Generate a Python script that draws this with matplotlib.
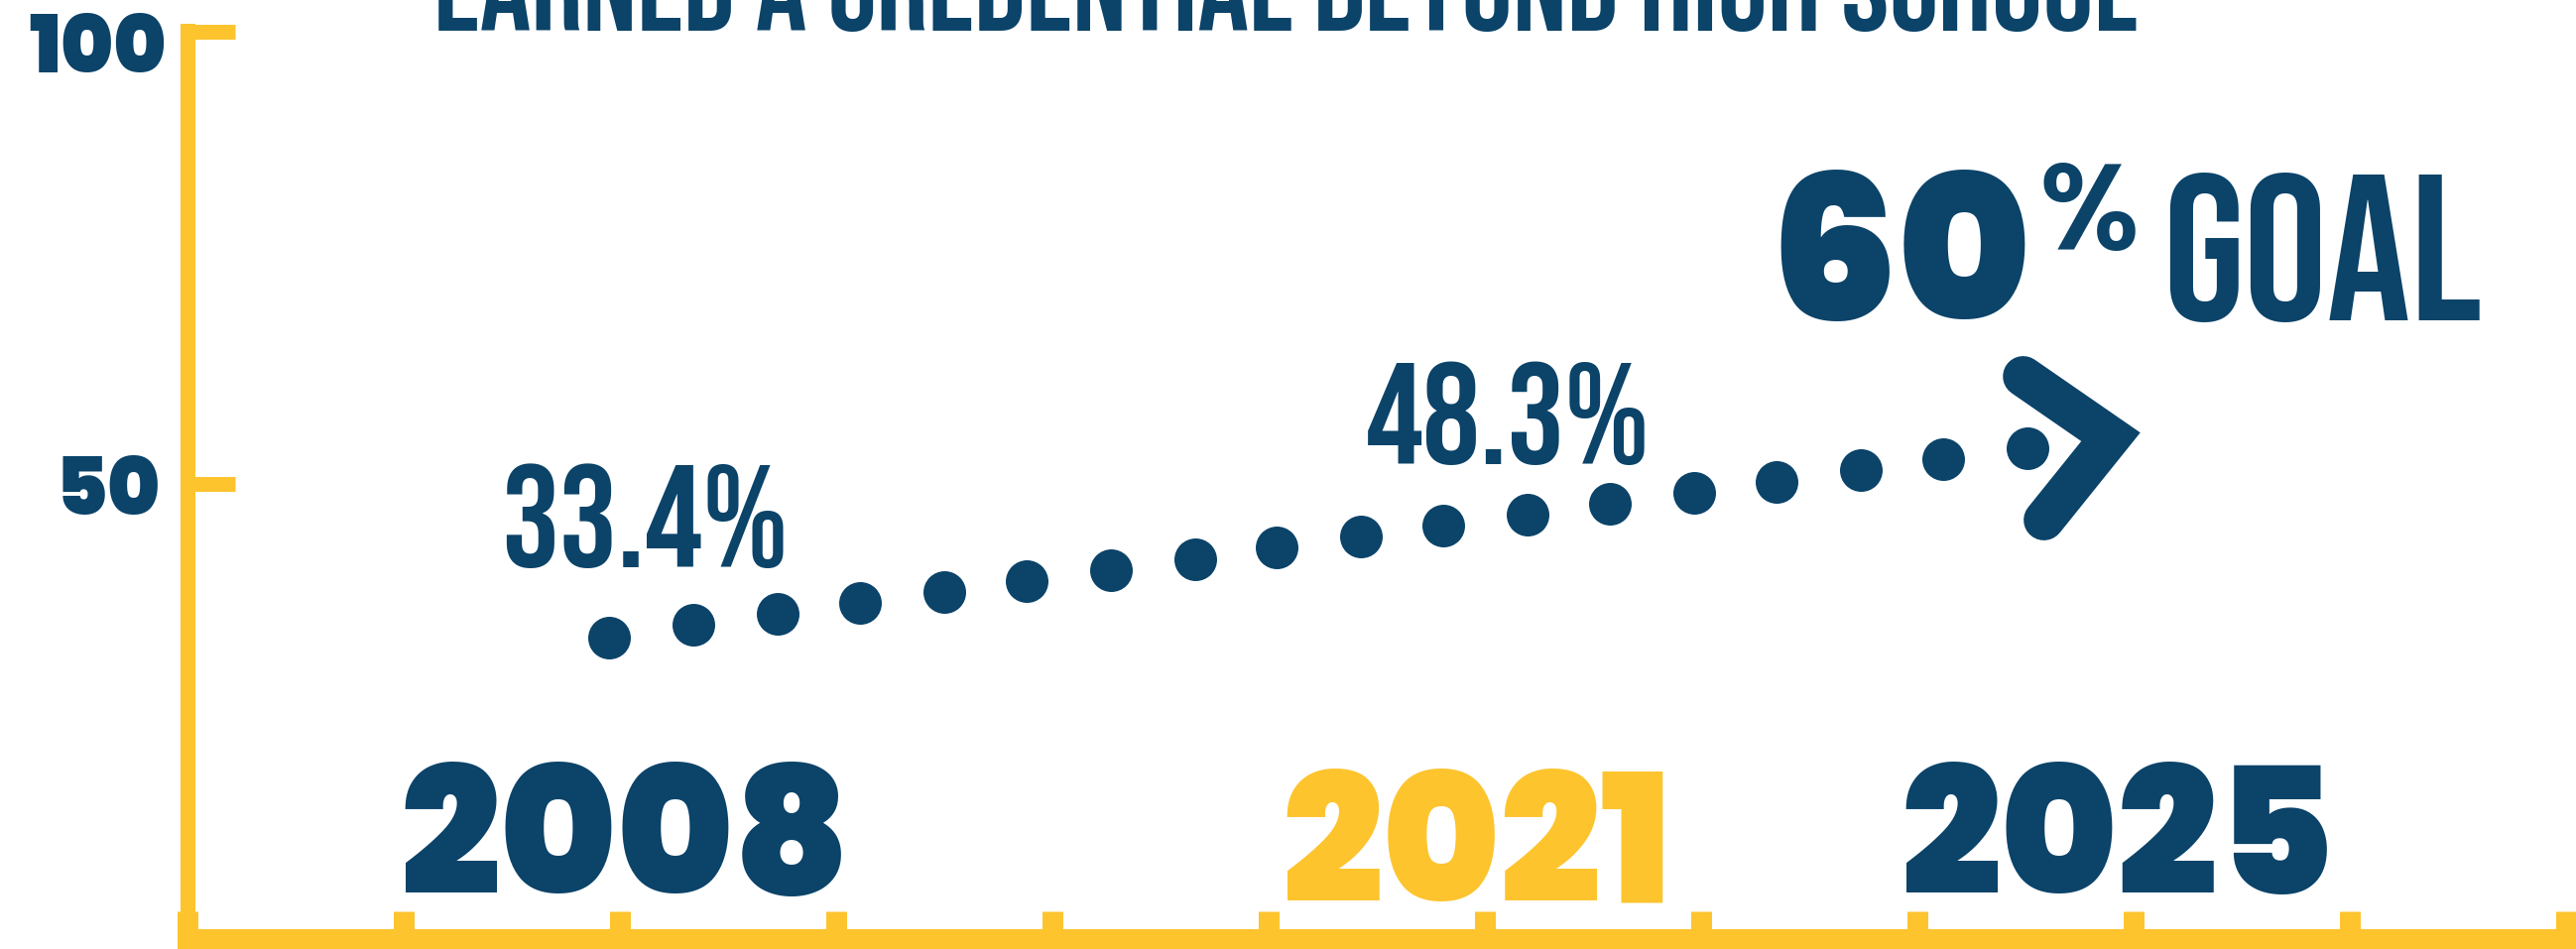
import matplotlib
matplotlib.use("Agg")
import matplotlib.pyplot as plt
from matplotlib.font_manager import FontProperties
from matplotlib.textpath import TextPath

W, H, DPI = 2597, 957, 100
NAVY = "#0b4369"
GOLD = "#fdc42e"

# ---------------------------------------------------------------------------
# data read off the infographic
# ---------------------------------------------------------------------------
title = "EARNED A CREDENTIAL BEYOND HIGH SCHOOL"
y_ticks = [50, 100]
x_ticks = list(range(12))

# dotted trend (x in axis tick units, y in percent)
dot_x = [1.95, 2.34, 2.73, 3.11, 3.50, 3.88, 4.27, 4.66, 5.04,
         5.43, 5.81, 6.20, 6.58, 6.97, 7.35, 7.74, 8.12, 8.51]
dot_pct = [33.0, 34.4, 35.6, 36.8, 38.0, 39.2, 40.4, 41.7, 43.0,
           44.2, 45.4, 46.6, 47.8, 49.0, 50.2, 51.5, 52.7, 53.9]

# chevron arrow head at the end of the dots
arrow_x = [8.49, 8.895, 8.586]
arrow_pct = [61.9, 55.2, 46.0]

years = ["2008", "2021", "2025"]
year_colors = [NAVY, GOLD, NAVY]
value_labels = ["33.4%", "48.3%"]
goal_value = "60"

COND = ["Bebas Neue", "League Gothic", "Oswald", "DejaVu Sans"]
GEO = ["Poppins", "Montserrat", "DejaVu Sans"]

fig = plt.figure(figsize=(W / DPI, H / DPI), dpi=DPI)


def put(s, box, family, weight, color, fit="h", ha="left"):
    """Draw s so its ink fills box = (left, top, right, baseline) in pixels."""
    l, t, r, b = box
    fp = FontProperties(family=family, weight=weight)
    ext = TextPath((0, 0), s, size=1, prop=fp).get_extents()
    if fit == "h":
        px = (b - t) / ext.y1
    else:
        px = (r - l) / ext.width
    x = {"left": l, "right": r, "center": (l + r) / 2}[ha]
    fig.text(x / W, 1 - b / H, s, fontproperties=fp, fontsize=px * 72 / DPI,
             color=color, ha=ha, va="baseline")


# axes: y spine at x=188.5px, top at 31px, x spine centred at 946.5px
ax = fig.add_axes([188.5 / W, 1 - 946.5 / H, 1 - 188.5 / W, (946.5 - 31) / H])
ax.set_xlim(0.013, 11.046)
ax.set_ylim(-0.33, 100.16)
for side in ("top", "right"):
    ax.spines[side].set_visible(False)
ax.spines["left"].set_color(GOLD)
ax.spines["left"].set_linewidth(10.8)
ax.spines["bottom"].set_color(GOLD)
ax.spines["bottom"].set_linewidth(15.1)
ax.set_xticks(x_ticks)
ax.set_yticks(y_ticks)
ax.tick_params(axis="y", direction="in", length=34.2, width=10.8, color=GOLD,
               labelleft=False)
ax.tick_params(axis="x", direction="in", length=20.5, width=15.1, color=GOLD,
               labelbottom=False)

ax.scatter(dot_x, dot_pct, s=958, color=NAVY, linewidths=0, zorder=3, clip_on=False)
ax.plot(arrow_x, arrow_pct, color=NAVY, lw=29.5, solid_capstyle="round",
        solid_joinstyle="miter", zorder=3, clip_on=False)

# y tick labels
put(str(y_ticks[1]), (8, 13, 168, 73), GEO, "black", NAVY, ha="right")
put(str(y_ticks[0]), (48, 459, 162, 519), GEO, "black", NAVY, ha="right")

# title (only its lower part is inside the frame, as in the original)
put(title, (440, 0, 2152, 31), COND, "bold", NAVY, fit="w", ha="center")

# value labels
put(value_labels[0], (519, 468, 780, 572), COND, "bold", NAVY, ha="center")
put(value_labels[1], (1387, 365, 1653, 468), COND, "bold", NAVY, ha="center")

# goal
put(goal_value, (1784, 171, 2051, 323), GEO, "black", NAVY)
put("%", (2056, 165, 2153, 252), GEO, "semibold", NAVY)
put("GOAL", (2180, 174, 2489, 323), COND, "bold", NAVY)

# years
year_boxes = [(385, 769, 875, 902), (1283, 775, 1695, 909), (1900, 769, 2369, 902)]
for yr, col, box in zip(years, year_colors, year_boxes):
    put(yr, box, GEO, "black", col, ha="center")

fig.savefig("out.png", dpi=DPI)
